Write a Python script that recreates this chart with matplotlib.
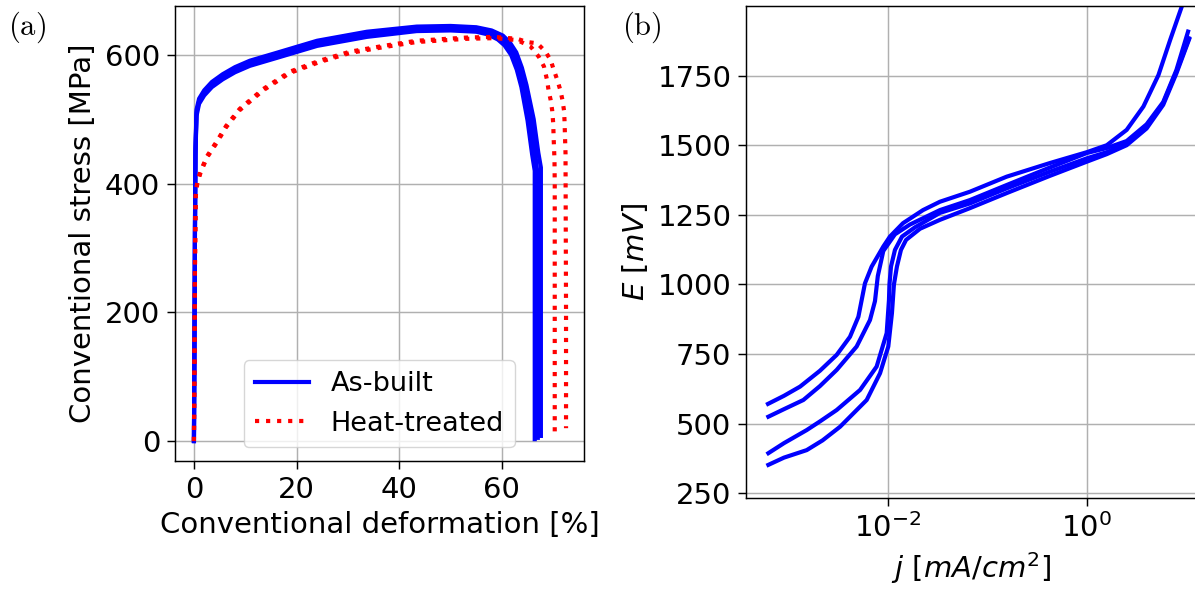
import matplotlib
matplotlib.use('Agg')
import matplotlib.pyplot as plt
from matplotlib.ticker import NullLocator

# (a) tensile curves: strain [%] / stress [MPa]
asbuilt_strain_1 = [0, 0.1, 0.2, 0.3, 0.5, 1.0, 2.0, 3.5, 5.6, 8.0, 10.9, 16, 24, 33.7, 43.4, 50, 55, 57.5, 59.7, 61.0, 62.3, 63.4, 64.3, 65.6, 66.5, 67.0, 67.0]
asbuilt_stress_1 = [0, 150, 330, 450, 510, 528, 541, 554, 566, 577, 587, 599, 618, 632, 640, 641, 639, 635, 627, 617, 602, 578, 551, 499, 447, 410, 5]
asbuilt_strain_2 = [0, 0.1, 0.2, 0.3, 0.5, 1.0, 2.0, 3.5, 5.6, 8.0, 10.9, 16, 24, 33.7, 43.4, 50, 55, 57.2, 59.2, 60.5, 61.8, 62.9, 63.8, 65.0, 65.9, 66.4, 66.4]
asbuilt_stress_2 = [0, 150, 325, 445, 505, 524, 537, 550, 562, 573, 583, 595, 614, 628, 637, 638, 636, 632, 624, 615, 600, 577, 550, 498, 445, 420, 3]
asbuilt_strain_3 = [0, 0.1, 0.2, 0.3, 0.5, 1.0, 2.0, 3.5, 5.6, 8.0, 10.9, 16, 24, 33.7, 43.4, 50, 55, 58.0, 60.2, 61.5, 62.8, 63.9, 64.8, 66.2, 67.1, 67.6, 67.6]
asbuilt_stress_3 = [0, 150, 335, 455, 515, 532, 545, 558, 570, 581, 591, 603, 622, 636, 644, 645, 643, 638, 630, 620, 604, 580, 553, 500, 448, 425, 8]

heat_strain_1 = [0, 0.1, 0.2, 0.35, 0.66, 1.25, 2.5, 4.4, 6.3, 8.9, 13.5, 18.7, 24.5, 30.4, 36.9, 43.4, 53.2, 58.5, 63.0, 65.6, 67.2, 68.2, 68.8, 69.1, 69.5, 69.8, 70.0, 70.1, 70.25, 70.3, 70.3]
heat_stress_1 = [0, 120, 270, 380, 401, 416, 440, 463, 488, 514, 545, 572, 589, 603, 612, 620, 625, 626, 623, 613, 597, 582, 561, 545, 530, 514, 494, 468, 437, 400, 9]
heat_strain_2 = [0, 0.1, 0.2, 0.35, 0.66, 1.25, 2.5, 4.4, 6.3, 8.9, 13.5, 18.7, 24.5, 30.4, 36.9, 43.4, 53.2, 58.5, 63.0, 64.9, 66.9, 68.5, 69.5, 70.1, 70.8, 71.4, 71.8, 72.1, 72.2, 72.4, 72.5, 72.5]
heat_stress_2 = [0, 125, 275, 385, 403, 418, 442, 465, 490, 516, 547, 574, 591, 605, 614, 622, 627, 628, 625, 620, 618, 605, 592, 577, 561, 545, 530, 514, 499, 447, 200, 20]

# (b) polarisation curves: current density [mA/cm2] / potential [mV]
j_1 = [6.22e-4, 9.0e-4, 1.306e-3, 2.07e-3, 3.05e-3, 4.15e-3, 5.04e-3, 5.48e-3, 5.87e-3, 6.85e-3, 8.97e-3, 1.047e-2, 1.416e-2, 2.25e-2, 3.33e-2, 6.67e-2, 0.156, 0.425, 1.0, 1.585, 2.51, 3.70, 5.24, 6.87, 8.99, 9.93]
E_1 = [571, 600, 633, 690, 747, 812, 884, 950, 1004, 1064, 1136, 1172, 1220, 1267, 1297, 1333, 1387, 1436, 1475, 1500, 1555, 1639, 1752, 1878, 1998, 2065]
j_2 = [6.27e-4, 9.0e-4, 1.41e-3, 2.07e-3, 3.05e-3, 4.84e-3, 6.59e-3, 7.4e-3, 7.9e-3, 8.97e-3, 1.175e-2, 1.66e-2, 3.33e-2, 6.67e-2, 0.156, 0.425, 1.0, 1.585, 2.51, 3.98, 5.85, 7.94, 10.4]
E_2 = [525, 552, 585, 635, 693, 777, 872, 940, 1030, 1120, 1180, 1215, 1267, 1303, 1357, 1420, 1472, 1490, 1515, 1575, 1655, 1770, 1908]
j_3 = [6.27e-4, 9.0e-4, 1.524e-3, 2.07e-3, 3.05e-3, 5.24e-3, 7.69e-3, 9.70e-3, 1.023e-2, 1.035e-2, 1.072e-2, 1.175e-2, 1.384e-2, 1.866e-2, 3.33e-2, 6.67e-2, 0.156, 0.425, 1.0, 1.585, 2.51, 3.98, 5.85, 7.94, 10.64]
E_3 = [394, 430, 477, 508, 549, 621, 705, 825, 944, 1000, 1064, 1124, 1172, 1205, 1257, 1291, 1345, 1405, 1453, 1475, 1507, 1567, 1651, 1764, 1884]
j_4 = [6.27e-4, 9.0e-4, 1.524e-3, 2.2e-3, 3.30e-3, 6.11e-3, 8.32e-3, 1.007e-2, 1.096e-2, 1.148e-2, 1.23e-2, 1.35e-2, 1.52e-2, 2.10e-2, 3.33e-2, 6.67e-2, 0.156, 0.425, 1.0, 1.585, 2.51, 3.98, 5.85, 7.94, 10.64]
E_4 = [352, 378, 405, 440, 489, 585, 681, 777, 897, 1000, 1064, 1124, 1160, 1200, 1232, 1274, 1328, 1390, 1441, 1468, 1500, 1560, 1645, 1758, 1880]

plt.rcParams['font.size'] = 21
plt.rcParams['legend.fontsize'] = 19.5
plt.rcParams['xtick.major.size'] = 5.6
plt.rcParams['ytick.major.size'] = 5.6
plt.rcParams['xtick.major.pad'] = 5
plt.rcParams['ytick.major.pad'] = 5
plt.rcParams['xtick.major.width'] = 1.05
plt.rcParams['ytick.major.width'] = 1.05
plt.rcParams['axes.linewidth'] = 1.05
plt.rcParams['axes.labelpad'] = 5.5
plt.rcParams['grid.linewidth'] = 1.05

fig = plt.figure(figsize=(11.95, 5.93), dpi=100)
ax1 = fig.add_axes([0.1464, 0.2226, 0.3423, 0.7673])
ax2 = fig.add_axes([0.6243, 0.1602, 0.3774, 0.8297])

# --- (a)
ax1.plot(asbuilt_strain_1, asbuilt_stress_1, '-', color='blue', lw=3, label='As-built')
ax1.plot(asbuilt_strain_2, asbuilt_stress_2, '-', color='blue', lw=3)
ax1.plot(asbuilt_strain_3, asbuilt_stress_3, '-', color='blue', lw=3)
ax1.plot(heat_strain_1, heat_stress_1, ':', color='red', lw=3, label='Heat-treated')
ax1.plot(heat_strain_2, heat_stress_2, ':', color='red', lw=3)
ax1.set_xlim(-3.7, 76)
ax1.set_ylim(-31, 676)
ax1.set_xticks([0, 20, 40, 60])
ax1.set_yticks([0, 200, 400, 600])
ax1.grid(True)
ax1.set_xlabel('Conventional deformation [%]')
ax1.set_ylabel('Conventional stress [MPa]')
ax1.legend(loc='lower center', handlelength=2.0)

# --- (b)
for jj, EE in [(j_1, E_1), (j_2, E_2), (j_3, E_3), (j_4, E_4)]:
    ax2.plot(jj, EE, '-', color='blue', lw=3)
ax2.set_xscale('log')
ax2.set_xlim(3.74e-4, 12.8)
ax2.set_ylim(233, 2000)
ax2.set_xticks([1e-2, 1e0])
ax2.xaxis.set_minor_locator(NullLocator())
ax2.set_yticks([250, 500, 750, 1000, 1250, 1500, 1750])
ax2.grid(True)
ax2.set_xlabel(r'$j\ [mA/cm^2]$')
ax2.set_ylabel(r'$E\ [mV]$')

fig.text(0.0067, 0.954, r'$\mathrm{(a)}$', math_fontfamily='cm', fontsize=22, va='center')
fig.text(0.5205, 0.954, r'$\mathrm{(b)}$', math_fontfamily='cm', fontsize=22, va='center')

fig.savefig('out.png', dpi=100)
